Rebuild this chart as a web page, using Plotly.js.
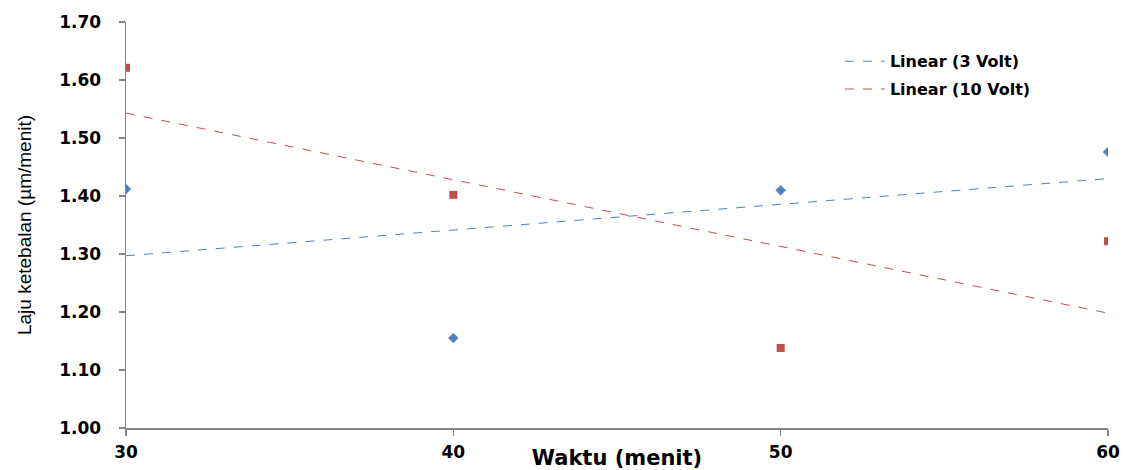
<!DOCTYPE html>
<html>
<head>
<meta charset="utf-8">
<script src="https://cdn.plot.ly/plotly-3.0.1.min.js"></script>
<style>html,body{margin:0;padding:0;background:#fff;}#chart{width:1126px;height:470px;}</style>
</head>
<body>
<div id="chart"></div>
<script>
// Data
const waktu = [30, 40, 50, 60];
const volt3 = [1.412, 1.155, 1.410, 1.476];
const volt10 = [1.621, 1.402, 1.138, 1.322];
const trendX = [30, 60];
const trend3 = [1.297, 1.430];
const trend10 = [1.543, 1.198];
const yTicks = [1.00, 1.10, 1.20, 1.30, 1.40, 1.50, 1.60, 1.70];
const xTicks = [30, 40, 50, 60];

const blue = '#4F81BD';
const red = '#C0504D';
const boldFont = 'DejaVu Sans, Liberation Sans, sans-serif';

const traces = [
  {x: waktu, y: volt3, mode: 'markers', name: '3 Volt', showlegend: false,
   marker: {symbol: 'diamond', size: 8, color: blue}},
  {x: waktu, y: volt10, mode: 'markers', name: '10 Volt', showlegend: false,
   marker: {symbol: 'square', size: 8, color: red}},
  {x: trendX, y: trend3, mode: 'lines', name: 'Linear (3 Volt)', legendgroup: 'a',
   line: {color: blue, width: 1, dash: 'dash'}},
  {x: trendX, y: trend10, mode: 'lines', name: 'Linear (10 Volt)', legendgroup: 'b',
   line: {color: red, width: 1, dash: 'dash'}}
];

const layout = {
  width: 1126, height: 470,
  margin: {l: 126, r: 18, t: 22, b: 42},
  paper_bgcolor: '#ffffff', plot_bgcolor: '#ffffff',
  font: {family: 'Liberation Sans, Arial, sans-serif', color: '#000'},
  xaxis: {
    range: [30, 60], tickvals: xTicks, ticktext: xTicks.map(String),
    showgrid: false, zeroline: false, showline: true, linecolor: '#868686', linewidth: 1.5,
    ticks: 'outside', ticklen: 6, tickcolor: '#868686', tickwidth: 1.5,
    tickfont: {size: 17, family: boldFont, weight: 'bold'},
    ticklabelstandoff: 2,
    title: {text: '<b>Waktu (menit)</b>', font: {size: 21, family: boldFont}, standoff: 3}
  },
  yaxis: {
    range: [1.00, 1.70], tickvals: yTicks, ticktext: yTicks.map(v => v.toFixed(2)),
    showgrid: false, zeroline: false, showline: true, linecolor: '#868686', linewidth: 1.5,
    ticks: 'outside', ticklen: 6, tickcolor: '#868686', tickwidth: 1.5,
    tickfont: {size: 17, family: boldFont, weight: 'bold'},
    ticklabelstandoff: 14,
    title: {text: '\u00a0\u00a0\u00a0\u00a0\u00a0\u00a0Laju ketebalan (µm/menit)', font: {size: 19}, standoff: 22}
  },
  legend: {
    x: 0.727, y: 0.945, xanchor: 'left', yanchor: 'top',
    bgcolor: 'rgba(0,0,0,0)', borderwidth: 0,
    font: {size: 16, family: boldFont, weight: 'bold'},
    traceorder: 'grouped', tracegroupgap: 4, itemwidth: 40
  },
  showlegend: true
};

Plotly.newPlot('chart', traces, layout, {displayModeBar: false, staticPlot: true});
</script>
</body>
</html>
